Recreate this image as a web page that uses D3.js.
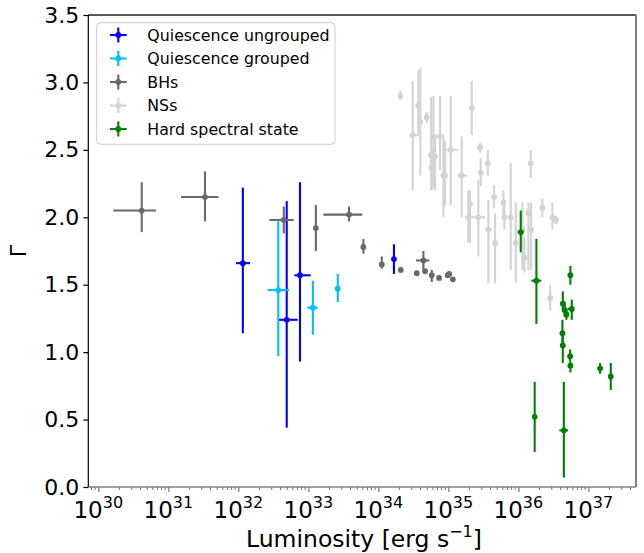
<!DOCTYPE html>
<html>
<head>
<meta charset="utf-8">
<script src="https://cdn.jsdelivr.net/npm/d3@7"></script>
<style>
  body { margin: 0; background: #fff; }
  text { font-family: "DejaVu Sans", sans-serif; fill: #000; }
</style>
</head>
<body>
<svg width="644" height="553"></svg>
<script>
// rows: [L, L low, L high, Gamma, Gamma low, Gamma high]   (null = no bar)
var ungrouped = [
  [1.16e32, 9.27e31, 1.47e32, 1.66, 1.14, 2.22],
  [4.91e32, 3.81e32, 7.06e32, 1.24, 0.44, 2.12],
  [7.60e32, 6.31e32, 1.08e33, 1.57, 0.93, 2.26],
  [1.67e34, null, null, 1.69, 1.58, 1.80]
];

var grouped = [
  [3.72e32, 2.63e32, 5.30e32, 1.46, 0.97, 1.97],
  [1.16e33, 9.68e32, 1.36e33, 1.33, 1.13, 1.53],
  [2.63e33, null, null, 1.47, 1.37, 1.58]
];

var bhs = [
  [4.17e30, 1.64e30, 6.67e30, 2.05, 1.89, 2.26],
  [3.34e31, 1.52e31, 5.18e31, 2.15, 1.97, 2.34],
  [4.46e32, 2.77e32, 6.18e32, 1.98, 1.88, 2.08],
  [1.28e33, null, null, 1.92, 1.75, 2.09],
  [3.81e33, 1.64e33, 5.90e33, 2.02, 1.97, 2.08],
  [6.11e33, null, null, 1.78, 1.73, 1.84],
  [1.12e34, null, null, 1.65, 1.62, 1.71],
  [2.09e34, null, null, 1.61, 1.59, 1.63],
  [3.54e34, null, null, 1.585, null, null],
  [4.40e34, 3.46e34, 5.36e34, 1.68, 1.61, 1.75],
  [4.65e34, null, null, 1.60, null, null],
  [5.79e34, null, null, 1.57, 1.52, 1.61],
  [7.36e34, null, null, 1.55, null, null],
  [9.77e34, null, null, 1.57, null, null],
  [1.03e35, null, null, 1.58, null, null],
  [1.16e35, null, null, 1.54, null, null]
];

var nss = [
  [2.06e34, null, null, 2.90, 2.87, 2.94],
  [3.10e34, 2.77e34, 3.54e34, 2.61, 2.20, 3.01],
  [3.72e34, null, null, 2.83, 2.60, 3.09],
  [3.98e34, null, null, 2.71, 2.31, 3.11],
  [4.91e34, null, null, 2.74, 2.70, 2.78],
  [5.66e34, null, null, 2.46, 2.20, 2.89],
  [6.11e34, null, null, 2.60, 2.22, 2.90],
  [7.60e34, 6.67e34, 8.67e34, 2.60, 2.35, 2.90],
  [6.46e34, null, null, 2.45, 2.20, 2.60],
  [5.79e34, null, null, 2.37, 2.20, 2.50],
  [8.49e34, null, null, 2.31, 2.00, 2.61],
  [8.98e34, null, null, 2.31, 2.09, 2.57],
  [1.08e35, 9.48e34, 1.35e35, 2.50, 2.09, 2.90],
  [1.55e35, 1.35e35, 1.85e35, 2.31, 2.00, 2.60],
  [2.16e35, null, null, 2.81, 2.61, 3.01],
  [2.84e35, null, null, 2.52, 2.48, 2.55],
  [2.90e35, null, null, 2.33, 2.23, 2.44],
  [3.66e35, null, null, 2.40, 2.31, 2.50],
  [2.04e35, null, null, 2.10, 1.81, 2.20],
  [1.93e35, null, null, 2.00, 1.81, 2.20],
  [2.68e35, 1.73e35, 3.34e35, 2.00, 1.71, 2.28],
  [3.73e35, 3.34e35, 4.17e35, 1.91, 1.51, 2.13],
  [4.65e35, null, null, 1.81, 1.51, 2.03],
  [4.50e35, null, null, 2.15, 2.07, 2.24],
  [6.11e35, null, null, 2.11, 2.00, 2.20],
  [6.31e35, null, null, 2.00, 1.91, 2.11],
  [7.78e35, null, null, 2.00, 1.61, 2.40],
  [9.18e35, null, null, 1.81, 1.51, 2.11],
  [1.14e36, null, null, 1.91, 1.61, 2.11],
  [1.22e36, null, null, 1.70, 1.59, 1.85],
  [1.39e36, null, null, 2.03, 1.61, 2.11],
  [1.52e36, null, null, 1.91, 1.61, 2.11],
  [1.50e36, null, null, 2.40, 2.29, 2.50],
  [2.20e36, null, null, 2.07, 2.00, 2.14],
  [2.84e36, null, null, 1.40, 1.31, 1.50],
  [3.06e36, null, null, 2.00, 1.91, 2.11],
  [3.42e36, null, null, 1.98, 1.95, 2.01]
];

var hard = [
  [1.08e36, 9.77e35, 1.19e36, 1.89, 1.74, 2.05],
  [1.81e36, 1.53e36, 2.13e36, 1.53, 1.21, 1.84],
  [1.71e36, null, null, 0.52, 0.26, 0.78],
  [4.46e36, 3.85e36, 5.13e36, 0.42, 0.07, 0.78],
  [4.31e36, null, null, 1.36, 1.31, 1.45],
  [4.60e36, null, null, 1.31, 1.26, 1.37],
  [4.85e36, null, null, 1.28, 1.24, 1.33],
  [4.26e36, null, null, 1.14, 1.04, 1.24],
  [4.31e36, null, null, 1.05, 0.92, 1.14],
  [5.53e36, null, null, 1.57, 1.50, 1.64],
  [5.79e36, 5.13e36, 6.03e36, 1.32, 1.24, 1.39],
  [5.48e36, null, null, 0.97, 0.93, 1.02],
  [5.53e36, null, null, 0.90, 0.85, 0.93],
  [1.47e37, null, null, 0.88, 0.84, 0.92],
  [2.09e37, null, null, 0.82, 0.72, 0.92]
];

var seriesNames = ["Quiescence ungrouped", "Quiescence grouped", "BHs", "NSs", "Hard spectral state"];
var seriesColors = ["#0000ff", "#00bfff", "#696969", "#d3d3d3", "#008000"];
var seriesData = [ungrouped, grouped, bhs, nss, hard];

var xTickExps = [30, 31, 32, 33, 34, 35, 36, 37];
var yTicks = [0.0, 0.5, 1.0, 1.5, 2.0, 2.5, 3.0, 3.5];

window.onload = () => {

  var svg = d3.select("svg");

  var pLeft = 88.3, pRight = 636, pTop = 15, pBottom = 487;

  var x = d3.scaleLog()
    .domain([Math.pow(10, 29.857), Math.pow(10, 37.68)])
    .range([pLeft, pRight]);

  var y = d3.scaleLinear()
    .domain([0, 3.5])
    .range([pBottom, pTop]);

  //###############################################
  // Data
  //###############################################

  var plot = svg.append("g");

  // NSs first so the hard state points sit on top
  var order = [3, 0, 1, 2, 4];
  order.forEach(function(i) {
    var g = plot.append("g").attr("stroke", seriesColors[i]).attr("fill", seriesColors[i]);
    seriesData[i].forEach(function(d) {
      if (d[4] != null) {
        g.append("line")
          .attr("x1", x(d[0])).attr("x2", x(d[0]))
          .attr("y1", y(d[4])).attr("y2", y(d[5]))
          .attr("stroke-width", 2.1);
      }
      if (d[1] != null) {
        g.append("line")
          .attr("x1", x(d[1])).attr("x2", x(d[2]))
          .attr("y1", y(d[3])).attr("y2", y(d[3]))
          .attr("stroke-width", 2.1);
      }
      g.append("circle")
        .attr("cx", x(d[0]))
        .attr("cy", y(d[3]))
        .attr("r", 2.9)
        .attr("stroke", "none");
    });
  });

  //###############################################
  // Axes
  //###############################################

  var xAxis = d3.axisBottom(x)
    .tickValues(xTickExps.map(function(e) { return Math.pow(10, e); }))
    .tickSize(5)
    .tickFormat("");

  var gx = svg.append("g")
    .attr("transform", "translate(0," + pBottom + ")")
    .call(xAxis);
  gx.select(".domain").remove();
  gx.selectAll(".tick line").attr("stroke", "#777").attr("stroke-width", 1.2);

  // minor ticks
  var minor = [];
  for (var e = 29; e <= 37; e++) {
    for (var m = 2; m <= 9; m++) {
      var v = m * Math.pow(10, e);
      if (v > x.domain()[0] && v < x.domain()[1]) minor.push(v);
    }
  }
  svg.append("g").selectAll("line")
    .data(minor)
    .enter().append("line")
      .attr("x1", function(d) { return x(d); })
      .attr("x2", function(d) { return x(d); })
      .attr("y1", pBottom)
      .attr("y2", pBottom + 3)
      .attr("stroke", "#777")
      .attr("stroke-width", 1);

  var xl = svg.append("g").selectAll("text")
    .data(xTickExps)
    .enter().append("text")
      .attr("x", function(d) { return x(Math.pow(10, d)); })
      .attr("y", 518)
      .attr("text-anchor", "middle")
      .style("font-size", "23px");
  xl.append("tspan").text("10");
  xl.append("tspan")
    .attr("dy", -10)
    .style("font-size", "16px")
    .text(function(d) { return d; });

  var yAxis = d3.axisLeft(y)
    .tickValues(yTicks)
    .tickSize(5)
    .tickPadding(4)
    .tickFormat(d3.format(".1f"));

  var gy = svg.append("g")
    .attr("transform", "translate(" + pLeft + ",0)")
    .call(yAxis);
  gy.select(".domain").remove();
  gy.selectAll(".tick line").attr("stroke", "#000").attr("stroke-width", 1.2);
  gy.selectAll(".tick text")
    .style("font-size", "22px")
    .style("font-family", "DejaVu Sans");

  // spines
  svg.append("line").attr("x1", pLeft).attr("x2", pRight).attr("y1", pTop).attr("y2", pTop)
    .attr("stroke", "#222").attr("stroke-width", 1.3);
  svg.append("line").attr("x1", pRight).attr("x2", pRight).attr("y1", pTop).attr("y2", pBottom)
    .attr("stroke", "#808080").attr("stroke-width", 2);
  svg.append("line").attr("x1", pLeft).attr("x2", pRight).attr("y1", pBottom).attr("y2", pBottom)
    .attr("stroke", "#808080").attr("stroke-width", 1.6);
  svg.append("line").attr("x1", pLeft).attr("x2", pLeft).attr("y1", pTop).attr("y2", pBottom)
    .attr("stroke", "#000").attr("stroke-width", 1.2);

  // axis labels
  var xlab = svg.append("text")
    .attr("x", 364)
    .attr("y", 547)
    .attr("text-anchor", "middle")
    .style("font-size", "23.5px");
  xlab.append("tspan").text("Luminosity [erg s");
  xlab.append("tspan").attr("dy", -10).style("font-size", "16px").text("\u22121");
  xlab.append("tspan").attr("dy", 10).text("]");

  svg.append("text")
    .attr("transform", "translate(26," + ((pTop + pBottom) / 2) + ") rotate(-90)")
    .attr("text-anchor", "middle")
    .style("font-size", "22px")
    .text("\u0393");

  //###############################################
  // Legend
  //###############################################

  var legend = svg.append("g");
  legend.append("rect")
    .attr("x", 96.7).attr("y", 22.7)
    .attr("width", 238.3).attr("height", 121.6)
    .attr("rx", 4)
    .attr("fill", "#fff").attr("fill-opacity", 0.8)
    .attr("stroke", "#cccccc").attr("stroke-width", 1);

  seriesNames.forEach(function(name, i) {
    var ry = 35 + i * 23.5;
    var c = seriesColors[i];
    legend.append("line")
      .attr("x1", 110).attr("x2", 126.7).attr("y1", ry).attr("y2", ry)
      .attr("stroke", c).attr("stroke-width", 2.1);
    legend.append("line")
      .attr("x1", 118.3).attr("x2", 118.3).attr("y1", ry - 7.5).attr("y2", ry + 7.5)
      .attr("stroke", c).attr("stroke-width", 2.1);
    legend.append("circle")
      .attr("cx", 118.3).attr("cy", ry).attr("r", 2.9).attr("fill", c);
    legend.append("text")
      .attr("x", 147.3).attr("y", ry + 5.8)
      .style("font-size", "15.8px")
      .text(name);
  });

}
</script>
</body>
</html>
